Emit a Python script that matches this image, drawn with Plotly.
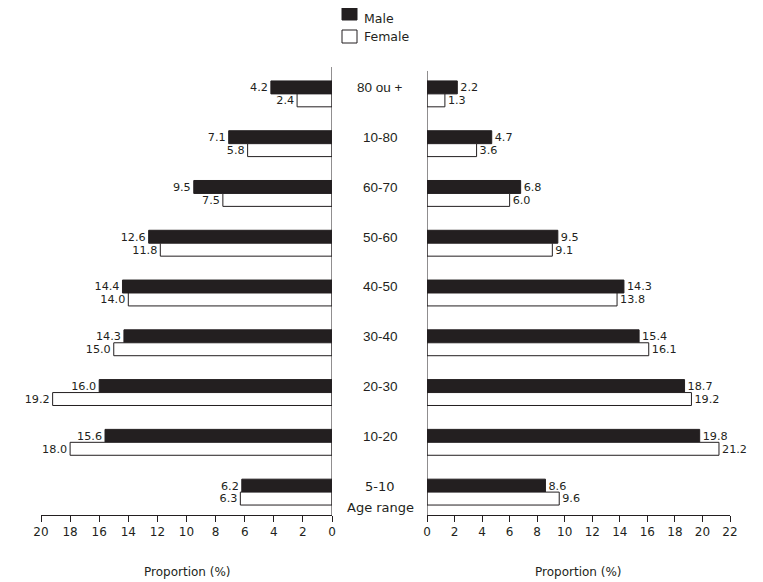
import plotly.graph_objects as go

categories = ["5-10", "10-20", "20-30", "30-40", "40-50", "50-60", "60-70", "10-80", "80 ou +"]
left_male = [6.2, 15.6, 16.0, 14.3, 14.4, 12.6, 9.5, 7.1, 4.2]
left_female = [6.3, 18.0, 19.2, 15.0, 14.0, 11.8, 7.5, 5.8, 2.4]
right_male = [8.6, 19.8, 18.7, 15.4, 14.3, 9.5, 6.8, 4.7, 2.2]
right_female = [9.6, 21.2, 19.2, 16.1, 13.8, 9.1, 6.0, 3.6, 1.3]
left_ticks = [20, 18, 16, 14, 12, 10, 8, 6, 4, 2, 0]
right_ticks = [0, 2, 4, 6, 8, 10, 12, 14, 16, 18, 20, 22]

# page body has an 8px margin; figure placed at (8, 8)
OFF = 8
W, H = 763 - OFF, 582 - OFF


def px(x):
    return (x - OFF) / W


def py(y):
    return 1 - (y - OFF) / H


ypos = list(range(len(categories)))
BW = 0.26
DARK = "#231f20"
TFONT = dict(family="DejaVu Sans", size=13, color="#231f20")

fig = go.Figure()


def add_pair(male, female, xa, ya):
    fig.add_trace(go.Bar(
        y=ypos, x=male, orientation="h", width=BW, offset=0,
        marker=dict(color=DARK, line=dict(color=DARK, width=1)),
        text=[f"{v:.1f}" for v in male], textposition="outside",
        textfont=TFONT, cliponaxis=False, xaxis=xa, yaxis=ya, showlegend=False))
    fig.add_trace(go.Bar(
        y=ypos, x=female, orientation="h", width=BW, offset=-BW,
        marker=dict(color="white", line=dict(color=DARK, width=1)),
        text=[f"{v:.1f}" for v in female], textposition="outside",
        textfont=TFONT, cliponaxis=False, xaxis=xa, yaxis=ya, showlegend=False))


add_pair(left_male, left_female, "x", "y")
add_pair(right_male, right_female, "x2", "y2")

ydom = [py(515), py(67)]
yr = [-0.46, 8.54]
axfont = dict(family="DejaVu Sans", size=12, color="#231f20")

fig.update_layout(
    width=W, height=H, margin=dict(l=0, r=0, t=0, b=0, autoexpand=False),
    paper_bgcolor="white", plot_bgcolor="white",
    barmode="overlay", uniformtext=dict(mode=False),
    xaxis=dict(domain=[px(41), px(332)], range=[20, 0], tickvals=left_ticks,
               showgrid=False, zeroline=False, showline=True, linecolor=DARK, linewidth=1,
               ticks="outside", ticklen=6, tickcolor=DARK, tickfont=axfont, anchor="y",
               automargin=False),
    yaxis=dict(domain=ydom, range=yr, showticklabels=False, showgrid=False,
               zeroline=False, showline=False, anchor="x", automargin=False),
    xaxis2=dict(domain=[px(427), px(730)], range=[0, 22], tickvals=right_ticks,
                showgrid=False, zeroline=False, showline=True, linecolor=DARK, linewidth=1,
                ticks="outside", ticklen=6, tickcolor=DARK, tickfont=axfont, anchor="y2",
                automargin=False),
    yaxis2=dict(domain=ydom, range=yr, showticklabels=False, showgrid=False,
                zeroline=False, showline=False, anchor="x2", automargin=False),
)

# vertical axis lines
fig.add_shape(type="line", xref="x", yref="y", x0=0, x1=0, y0=yr[0], y1=yr[1],
              line=dict(color=DARK, width=1))
fig.add_shape(type="line", xref="x2", yref="y2", x0=0, x1=0, y0=yr[0], y1=8.46,
              line=dict(color=DARK, width=1))

# center category labels
for i, c in enumerate(categories):
    fig.add_annotation(x=px(380), xref="paper", y=i, yref="y", text=c, showarrow=False,
                       xanchor="center", yanchor="middle", yshift=6,
                       font=dict(family="Liberation Sans" if i > 0 else "DejaVu Sans",
                                 size=13.5 if i > 0 else 13, color="#231f20"))
fig.add_annotation(x=px(380), xref="paper", y=py(508), yref="paper", text="Age range",
                   showarrow=False, xanchor="center", yanchor="middle",
                   font=dict(family="DejaVu Sans", size=13, color="#231f20"))

# axis titles
for xc in (187, 578):
    fig.add_annotation(x=px(xc), xref="paper", y=py(572), yref="paper",
                       text="Proportion (%)", showarrow=False,
                       xanchor="center", yanchor="middle",
                       font=dict(family="DejaVu Sans", size=12, color="#231f20"))

# legend
fig.add_shape(type="rect", xref="paper", yref="paper", x0=px(342), x1=px(357),
              y0=py(20), y1=py(7.5), fillcolor=DARK, line=dict(color=DARK, width=1))
fig.add_shape(type="rect", xref="paper", yref="paper", x0=px(342), x1=px(357),
              y0=py(43), y1=py(30), fillcolor="white", line=dict(color=DARK, width=1))
fig.add_annotation(x=px(362), xref="paper", y=py(8.5), yref="paper", text="Male",
                   showarrow=False, xanchor="left", yanchor="top",
                   font=dict(family="DejaVu Sans", size=12.5, color="#231f20"))
fig.add_annotation(x=px(362), xref="paper", y=py(36), yref="paper", text="Female",
                   showarrow=False, xanchor="left", yanchor="middle",
                   font=dict(family="DejaVu Sans", size=12.5, color="#231f20"))

fig.write_html("out.html")
